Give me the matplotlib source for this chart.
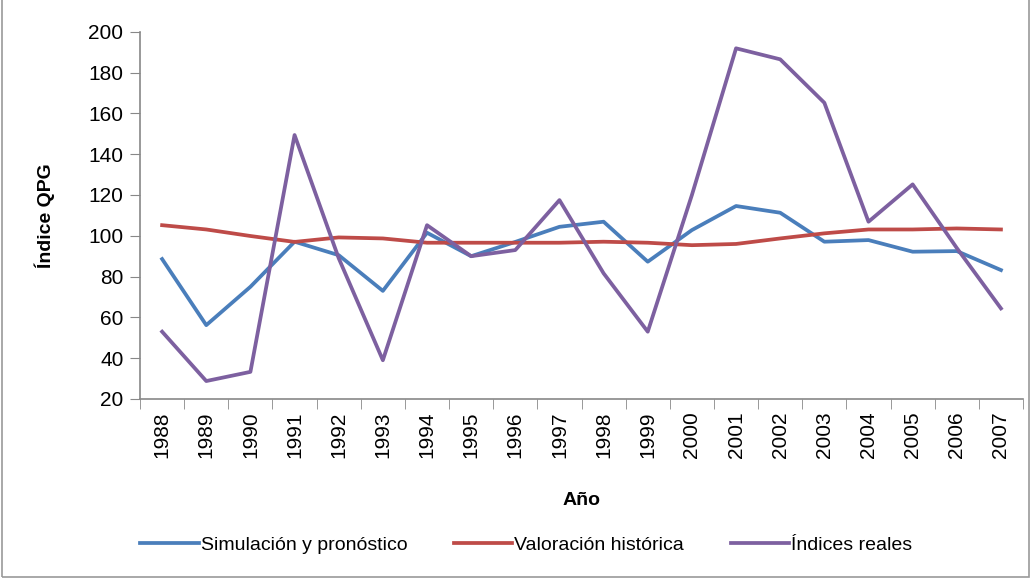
import matplotlib.pyplot as plt
import numpy as np

plt.rcParams['font.family'] = ['Liberation Sans', 'DejaVu Sans']

years = [str(y) for y in range(1988, 2008)]
simulacion = [88.6, 56.2, 75, 97.1, 90.5, 73, 101.5, 90, 97, 104.4,
              106.9, 87.3, 102.8, 114.6, 111.3, 97.1, 97.9, 92.2, 92.5, 83.2]
historica = [105.2, 103.1, 99.9, 97, 99.2, 98.7, 96.6, 96.6, 96.6, 96.6,
             97.1, 96.6, 95.4, 96, 98.7, 101.2, 103.1, 103.1, 103.6, 103.1]
reales = [53, 28.8, 33.3, 149.4, 89, 39, 105.2, 90, 93, 117.5,
          81.6, 53, 120, 191.9, 186.5, 165.2, 106.9, 125.2, 94, 64.4]

fig = plt.figure(figsize=(10.32, 5.78), dpi=100)
ax = fig.add_axes([0.1357, 0.3097, 0.8556, 0.6353])

x = np.arange(len(years))
ax.plot(x, simulacion, color='#4A7EBB', lw=2.7, label='Simulación y pronóstico')
ax.plot(x, historica, color='#BE4B48', lw=2.7, label='Valoración histórica')
ax.plot(x, reales, color='#7D60A0', lw=2.7, label='Índices reales')

ax.set_xlim(-0.5, len(years) - 0.5)
ax.set_ylim(20, 200)
ax.set_yticks(range(20, 201, 20))
ax.set_xticks(x)
ax.set_xticklabels(years, rotation=90, fontsize=15)
ax.set_xticks(np.arange(-0.5, len(years), 1), minor=True)
ax.tick_params(axis='x', which='major', length=0, pad=9)
ax.tick_params(axis='x', which='minor', length=7, color='#888888')
ax.tick_params(axis='y', length=7, color='#888888', labelsize=15, pad=5)

for s in ['top', 'right']:
    ax.spines[s].set_visible(False)
for s in ['left', 'bottom']:
    ax.spines[s].set_color('#888888')
    ax.spines[s].set_linewidth(1.2)

ax.set_ylabel('Índice QPG', fontsize=14, fontweight='bold', labelpad=24)
ax.set_xlabel('Año', fontsize=14, fontweight='bold', labelpad=24)

fig.legend(loc='center', bbox_to_anchor=(0.51, 0.057), ncol=3, frameon=False,
           fontsize=14, handlelength=3.0, handletextpad=0.1, columnspacing=2.4)

# chart frame
fig.add_artist(plt.Rectangle((0.002, 0.002), 0.995, 1.2, transform=fig.transFigure,
                             fill=False, edgecolor='#9a9a9a', lw=1.2))

fig.savefig('out.png', dpi=100)
